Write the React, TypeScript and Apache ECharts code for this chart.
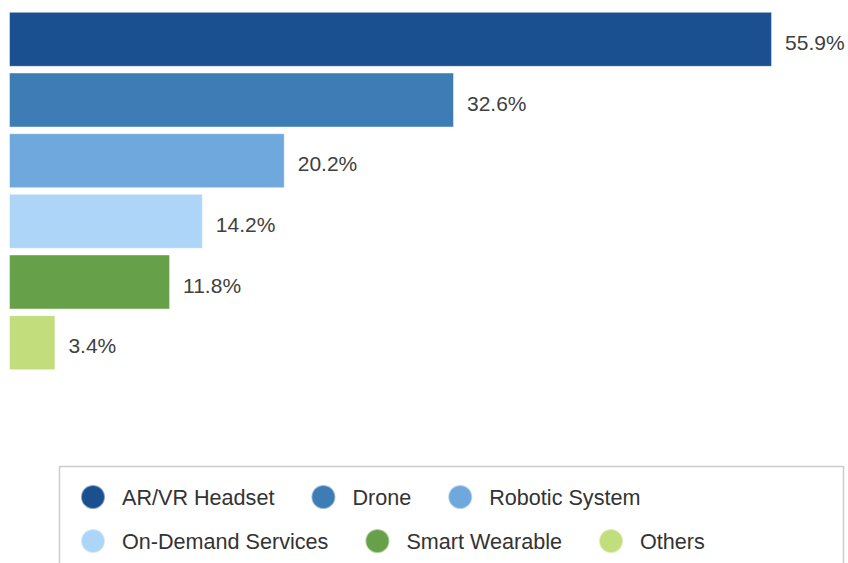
import React, { useEffect, useRef } from "react";
import * as echarts from "echarts";

const categories = ["AR/VR Headset", "Drone", "Robotic System", "On-Demand Services", "Smart Wearable", "Others"];
const values = [55.9, 32.6, 20.2, 14.2, 11.8, 3.4];
const colors = ["#1B5090", "#3E7CB5", "#6FA8DC", "#ADD5F7", "#66A048", "#C2DD7B"];
const legendRow1 = ["AR/VR Headset", "Drone", "Robotic System"];
const legendRow2 = ["On-Demand Services", "Smart Wearable", "Others"];

export default function App() {
  const ref = useRef<HTMLDivElement>(null);
  useEffect(() => {
    if (!ref.current) return;
    const chart = echarts.init(ref.current, null, { renderer: "svg" });
    const series = categories.map((name, i) => ({
      name,
      type: "bar",
      stack: "all",
      barWidth: 55,
      data: categories.map((_, j) => (j === i ? values[i] : null)),
      itemStyle: {
        color: colors[i],
        borderColor: "rgba(255,255,255,0.45)",
        borderWidth: 1,
      },
      label: {
        show: true,
        position: "right",
        distance: 13,
        offset: [0, 3],
        formatter: (p: any) => (p.value == null ? "" : p.value.toFixed(1) + "%"),
        color: "#404040",
        fontSize: 21,
        fontFamily: "Liberation Sans, Arial, sans-serif",
      },
    }));
    const legendCommon = {
      orient: "horizontal",
      left: 80,
      icon: "circle",
      itemWidth: 24,
      itemHeight: 24,
      itemGap: 36,
      textStyle: {
        fontSize: 21.6,
        color: "#333333",
        fontFamily: "Liberation Sans, Arial, sans-serif",
        padding: [0, 0, 0, 12],
      },
      padding: 0,
      selectedMode: false,
    };
    chart.setOption({
      animation: false,
      grid: { left: 9, top: 9, width: 819, height: 364, containLabel: false },
      xAxis: {
        type: "value",
        min: 0,
        max: 60,
        show: false,
      },
      yAxis: {
        type: "category",
        data: categories,
        inverse: true,
        show: false,
      },
      legend: [
        { ...legendCommon, top: 484, data: legendRow1 },
        { ...legendCommon, top: 528, data: legendRow2 },
      ],
      graphic: [
        {
          type: "rect",
          shape: { x: 59.5, y: 466.5, width: 784, height: 120 },
          style: { fill: "none", stroke: "#CCCCCC", lineWidth: 1.5 },
          silent: true,
          z: -1,
        },
      ],
      series,
    });
    return () => chart.dispose();
  }, []);
  return (
    <div
      ref={ref}
      style={{ position: "fixed", left: 0, top: 0, width: 848, height: 563, background: "#ffffff" }}
    />
  );
}
